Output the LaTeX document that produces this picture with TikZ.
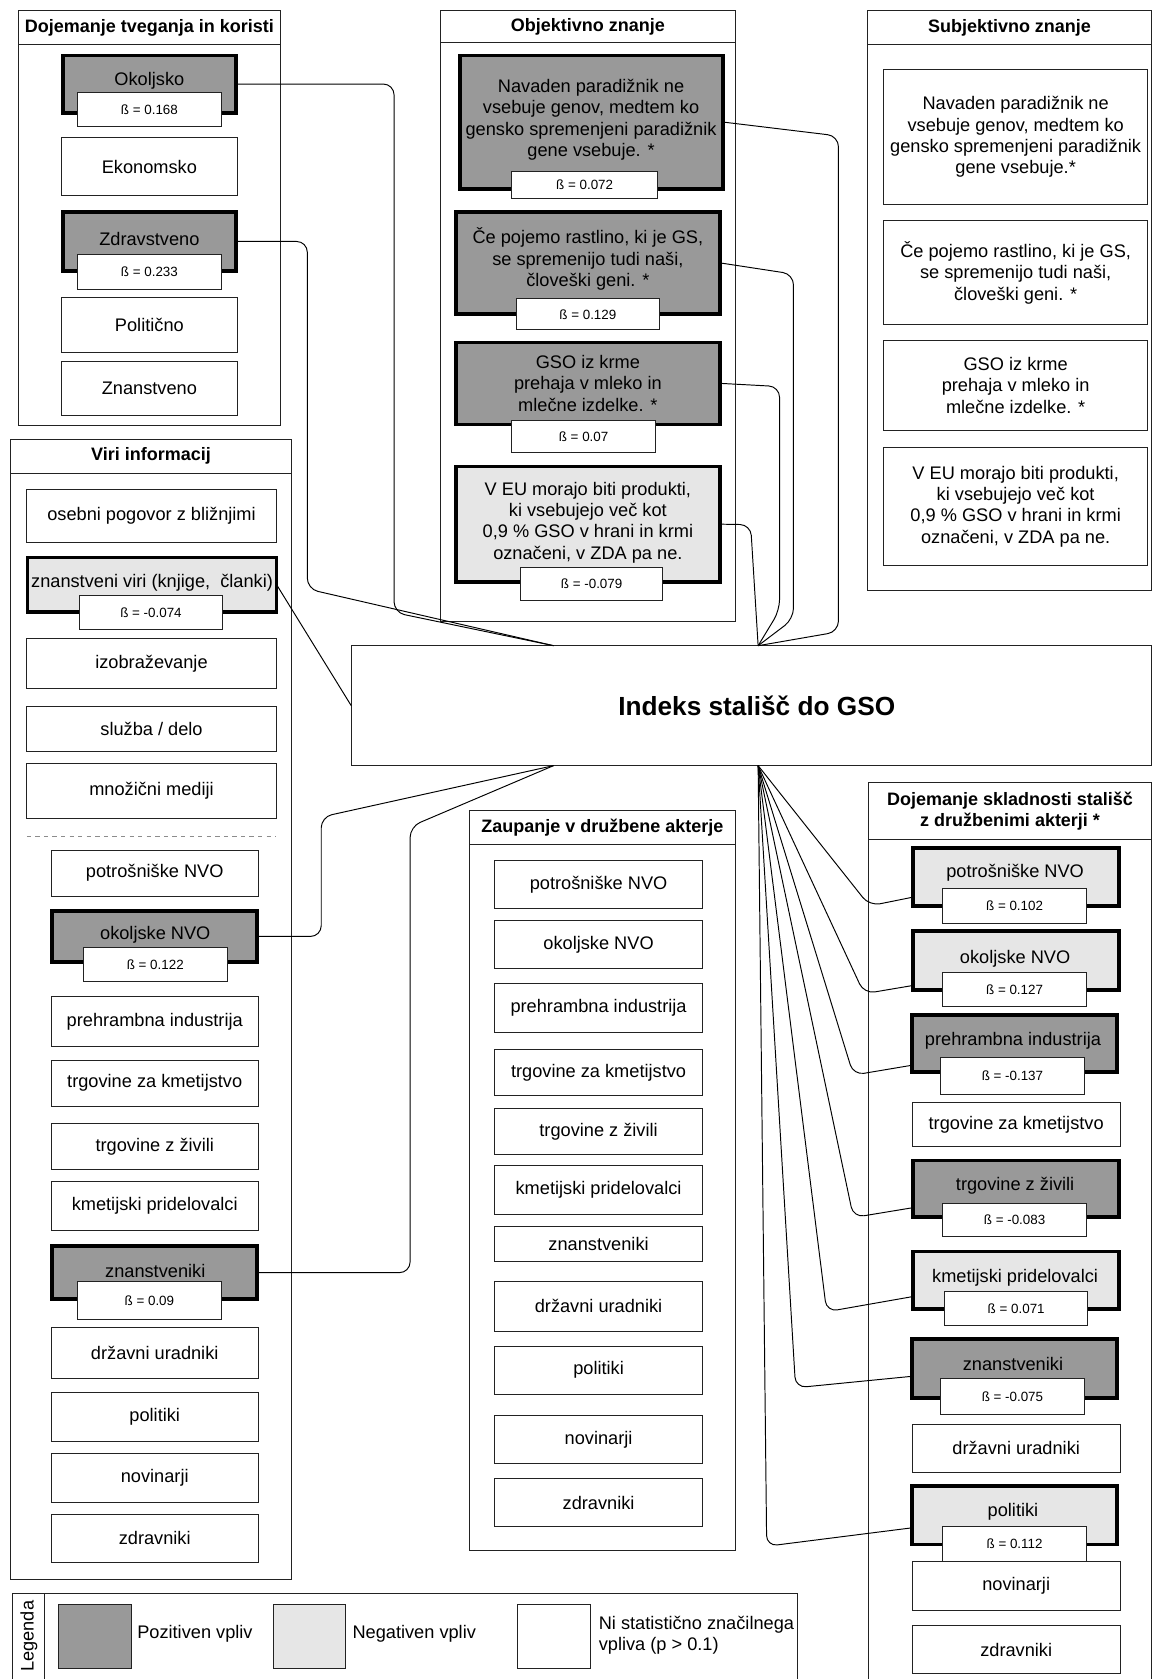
\documentclass[tikz,border=0pt]{standalone}
\usepackage{fontspec}
\setmainfont{Liberation Sans}
\usetikzlibrary{calc}
\definecolor{posfill}{HTML}{999999}
\definecolor{negfill}{HTML}{E6E6E6}
\definecolor{edge}{HTML}{222222}
\newcommand\txtfont{\fontsize{17}{20}\selectfont}
\newcommand\headfont{\fontsize{16.8}{20}\selectfont\bfseries}
\newcommand\betafont{\fontsize{12.5}{14}\selectfont}
\newcommand\indexfont{\fontsize{24.5}{28}\selectfont\bfseries}
% rectangle node spanning corner (#3,#4) to corner (#5,#6)
\newcommand\boxat[7]{%
  \pgfmathsetmacro\bxw{(#5)-(#3)}%
  \pgfmathsetmacro\bxh{(#6)-(#4)}%
  \node[#2, anchor=north west, minimum width=\bxw pt, minimum height=\bxh pt] (#1) at (#3,#4) {#7};}
% thick-bordered box given by its outer extent
\newcommand\tboxat[6]{\boxat{#1}{#2}{#3+1.7}{#4+1.7}{#5-1.7}{#6-1.7}{}}
\tikzset{
  panelbox/.style={draw=edge, line width=0.9pt, fill=white, inner sep=0pt, outer sep=0pt},
  headbox/.style={panelbox, font=\headfont, align=center},
  wbox/.style={draw=edge, line width=0.9pt, fill=white, inner sep=0pt, outer sep=0pt, font=\txtfont, align=center},
  posbox/.style={draw=black, line width=3.4pt, fill=posfill, inner sep=0pt, outer sep=0pt},
  negbox/.style={draw=black, line width=3.4pt, fill=negfill, inner sep=0pt, outer sep=0pt},
  betabox/.style={wbox, font=\betafont},
  boxtext/.style={font=\txtfont, align=center, inner sep=0pt},
  conn/.style={draw=black, line width=0.9pt, rounded corners=10pt},
  swatch/.style={draw=edge, line width=0.9pt, inner sep=0pt, outer sep=0pt},
}
\begin{document}
\begin{tikzpicture}[x=1pt,y=-1pt]
\useasboundingbox (0,0) rectangle (1076,1568);
\clip (0,0) rectangle (1076,1568);
\fill[white] (0,0) rectangle (1076,1568);

% ---------- Dojemanje tveganja in koristi ----------
\boxat{p1}{panelbox}{17}{10}{262}{397}{}
\boxat{p1h}{headbox}{17}{10}{262}{42}{Dojemanje tveganja in koristi}
\tboxat{okolj}{posbox}{57}{50}{222}{107}
\node[boxtext] (okolj-t) at (139.5,75) {Okoljsko};
\boxat{okolj-b}{betabox}{72}{86}{207}{118}{ß = 0.168}
\boxat{ekon}{wbox}{57}{128}{222}{183}{Ekonomsko}
\tboxat{zdrav}{posbox}{57}{196}{222}{255}
\node[boxtext] (zdrav-t) at (139.5,223) {Zdravstveno};
\boxat{zdrav-b}{betabox}{72}{238}{207}{270}{ß = 0.233}
\boxat{polit}{wbox}{57}{278}{222}{329}{Politično}
\boxat{znano}{wbox}{57}{338}{222}{388}{Znanstveno}

% ---------- Objektivno znanje ----------
\boxat{p2}{panelbox}{411}{10}{687}{580}{}
\boxat{p2h}{headbox}{411}{10}{687}{40}{Objektivno znanje}
\tboxat{ob1}{posbox}{428}{50}{677}{178}
\node[boxtext] (ob1-t) at (552,112) {Navaden paradižnik ne\\vsebuje genov, medtem ko\\gensko spremenjeni paradižnik\\gene vsebuje. *};
\boxat{ob1-b}{betabox}{478}{160}{614}{185}{ß = 0.072}
\tboxat{ob2}{posbox}{424}{196}{674}{295}
\node[boxtext] (ob2-t) at (549,242) {Če pojemo rastlino, ki je GS,\\se spremenijo tudi naši,\\človeški geni. *};
\boxat{ob2-b}{betabox}{482}{279}{616}{308}{ß = 0.129}
\tboxat{ob3}{posbox}{424}{318}{674}{398}
\node[boxtext] (ob3-t) at (549,358) {GSO iz krme\\prehaja v mleko in\\mlečne izdelke. *};
\boxat{ob3-b}{betabox}{478}{393}{612}{423}{ß = 0.07}
\tboxat{ob4}{negbox}{424}{434}{674}{545}
\node[boxtext] (ob4-t) at (549,488) {V EU morajo biti produkti,\\ki vsebujejo več kot\\0,9 \% GSO v hrani in krmi\\označeni, v ZDA pa ne.};
\boxat{ob4-b}{betabox}{486}{530}{619}{561}{ß = -0.079}

% ---------- Subjektivno znanje ----------
\boxat{p3}{panelbox}{810}{10}{1075.5}{551}{}
\boxat{p3h}{headbox}{810}{10}{1075.5}{42}{Subjektivno znanje}
\boxat{sb1}{wbox}{825}{65}{1072}{191}{Navaden paradižnik ne\\vsebuje genov, medtem ko\\gensko spremenjeni paradižnik\\gene vsebuje.*}
\boxat{sb2}{wbox}{825}{206}{1072}{303}{Če pojemo rastlino, ki je GS,\\se spremenijo tudi naši,\\človeški geni. *}
\boxat{sb3}{wbox}{825}{318}{1072}{402}{GSO iz krme\\prehaja v mleko in\\mlečne izdelke. *}
\boxat{sb4}{wbox}{825}{418}{1072}{528}{V EU morajo biti produkti,\\ki vsebujejo več kot\\0,9 \% GSO v hrani in krmi\\označeni, v ZDA pa ne.}

% ---------- Viri informacij ----------
\boxat{p4}{panelbox}{10}{410}{272}{1475}{}
\boxat{p4h}{headbox}{10}{410}{272}{442}{Viri informacij}
\boxat{v1}{wbox}{25}{457}{258}{507}{osebni pogovor z bližnjimi}
\tboxat{v2}{negbox}{24}{519}{260}{573}
\node[boxtext] (v2-t) at (142,544) {znanstveni viri (knjige,\ \ članki)};
\boxat{v2-b}{betabox}{74}{556}{208}{588}{ß = -0.074}
\boxat{v3}{wbox}{25}{596}{258}{643}{izobraževanje}
\boxat{v4}{wbox}{25}{660}{258}{702}{služba / delo}
\boxat{v5}{wbox}{25}{713}{258}{764}{množični mediji}
\coordinate (sepL) at (25,781);
\coordinate (sepR) at (258,781);
\draw[black!45, line width=0.8pt, dash pattern=on 4pt off 4pt] (sepL) -- (sepR);
\boxat{v6}{wbox}{48}{794}{241}{837}{potrošniške NVO}
\tboxat{v7}{posbox}{47}{849}{242}{900}
\node[boxtext] (v7-t) at (145,873) {okoljske NVO};
\boxat{v7-b}{betabox}{78}{885}{212}{917}{ß = 0.122}
\boxat{v8}{wbox}{48}{931}{241}{977}{prehrambna industrija}
\boxat{v9}{wbox}{48}{990}{241}{1033}{trgovine za kmetijstvo}
\boxat{v10}{wbox}{48}{1049}{241}{1092}{trgovine z živili}
\boxat{v11}{wbox}{48}{1103}{241}{1149}{kmetijski pridelovalci}
\tboxat{v12}{posbox}{47}{1162}{242}{1215}
\node[boxtext] (v12-t) at (145,1187) {znanstveniki};
\boxat{v12-b}{betabox}{72}{1197}{207}{1232}{ß = 0.09}
\boxat{v13}{wbox}{48}{1240}{241}{1287}{državni uradniki}
\boxat{v14}{wbox}{48}{1300}{241}{1346}{politiki}
\boxat{v15}{wbox}{48}{1357}{241}{1403}{novinarji}
\boxat{v16}{wbox}{48}{1414}{241}{1459}{zdravniki}

% ---------- central index ----------
\boxat{idx}{wbox}{328}{603}{1075.5}{715}{\indexfont\hspace*{10pt}Indeks stališč do GSO}

% ---------- Zaupanje v družbene akterje ----------
\boxat{p5}{panelbox}{438}{757}{687}{1448}{}
\boxat{p5h}{headbox}{438}{757}{687}{789}{Zaupanje v družbene akterje}
\boxat{z1}{wbox}{462}{804}{656}{848}{potrošniške NVO}
\boxat{z2}{wbox}{462}{860}{656}{904}{okoljske NVO}
\boxat{z3}{wbox}{462}{918}{656}{964}{prehrambna industrija}
\boxat{z4}{wbox}{462}{980}{656}{1023}{trgovine za kmetijstvo}
\boxat{z5}{wbox}{462}{1035}{656}{1078}{trgovine z živili}
\boxat{z6}{wbox}{462}{1088}{656}{1134}{kmetijski pridelovalci}
\boxat{z7}{wbox}{462}{1145}{656}{1178}{znanstveniki}
\boxat{z8}{wbox}{462}{1197}{656}{1243}{državni uradniki}
\boxat{z9}{wbox}{462}{1257}{656}{1302}{politiki}
\boxat{z10}{wbox}{462}{1322}{656}{1367}{novinarji}
\boxat{z11}{wbox}{462}{1381}{656}{1426}{zdravniki}

% ---------- Dojemanje skladnosti stališč ----------
\boxat{p6}{panelbox}{811}{731}{1075.5}{1590}{}
\boxat{p6h}{headbox}{811}{731}{1075.5}{784}{Dojemanje skladnosti stališč\\z družbenimi akterji *}
\tboxat{r1}{negbox}{851}{790}{1047}{848}
\node[boxtext] (r1-t) at (948,815) {potrošniške NVO};
\boxat{r1-b}{betabox}{880}{830}{1015}{862}{ß = 0.102}
\tboxat{r2}{negbox}{851}{868}{1047}{926}
\node[boxtext] (r2-t) at (948,895) {okoljske NVO};
\boxat{r2-b}{betabox}{880}{908}{1015}{940}{ß = 0.127}
\tboxat{r3}{posbox}{850}{946}{1045}{1003}
\node[boxtext] (r3-t) at (946,972) {prehrambna industrija};
\boxat{r3-b}{betabox}{878}{988}{1013}{1022}{ß = -0.137}
\boxat{r4}{wbox}{852}{1030}{1046}{1071}{trgovine za kmetijstvo}
\tboxat{r5}{posbox}{851}{1082}{1047}{1138}
\node[boxtext] (r5-t) at (948,1107) {trgovine z živili};
\boxat{r5-b}{betabox}{880}{1124}{1015}{1155}{ß = -0.083}
\tboxat{r6}{negbox}{851}{1167}{1047}{1224}
\node[boxtext] (r6-t) at (948,1193) {kmetijski pridelovalci};
\boxat{r6-b}{betabox}{882}{1206}{1016}{1238}{ß = 0.071}
\tboxat{r7}{posbox}{850}{1249}{1045}{1307}
\node[boxtext] (r7-t) at (946,1274) {znanstveniki};
\boxat{r7-b}{betabox}{878}{1287}{1013}{1321}{ß = -0.075}
\boxat{r8}{wbox}{852}{1330}{1046}{1375}{državni uradniki}
\tboxat{r9}{negbox}{850}{1386}{1045}{1444}
\node[boxtext] (r9-t) at (946,1412) {politiki};
\boxat{r9-b}{betabox}{880}{1426}{1015}{1458}{ß = 0.112}
\boxat{r10}{wbox}{852}{1458}{1046}{1504}{novinarji}
\boxat{r11}{wbox}{852}{1518}{1046}{1563}{zdravniki}

% ---------- legend ----------
\boxat{leg}{panelbox}{12}{1488}{745}{1590}{}
\boxat{legcell}{panelbox}{12}{1488}{42}{1590}{}
\node[boxtext, rotate=90] (leg-t) at (27,1528) {Legenda};
\boxat{sw1}{swatch, fill=posfill}{55}{1498}{123}{1558}{}
\node[boxtext, anchor=west] (sw1-t) at (128,1526) {Pozitiven vpliv};
\boxat{sw2}{swatch, fill=negfill}{255}{1498}{323}{1558}{}
\node[boxtext, anchor=west] (sw2-t) at (329,1526) {Negativen vpliv};
\boxat{sw3}{swatch, fill=white}{483}{1498}{551}{1558}{}
\node[boxtext, anchor=west, align=left] (sw3-t) at (559,1527) {Ni statistično značilnega\\vpliva (p > 0.1)};

% ---------- connectors ----------
\coordinate (jTL) at (517,603);
\coordinate (jTR) at (708,603);
\coordinate (jBL) at (517,715);
\coordinate (jBR) at (708,715);

\draw[conn] (okolj.east) -| (368,572) -- (jTL);
\draw[conn] (zdrav.east) -| (287,550) -- (jTL);
\draw[conn] (v2.east) -- (idx.west);
\draw[conn] (v7.east) -| (300,763) -- (jBL);
\draw[conn] (v12.east) -| (383,772) -- (jBL);

\draw[conn] (ob1.east) -- (783,127) -- (783,590) -- (jTR);
\draw[conn] (ob2.east) -- (741,256) -- (741,578) -- (jTR);
\draw[conn] (ob3.east) -- (728,361) -- (728,570) -- (jTR);
\draw[conn] (ob4.east) -- (701,490) -- (jTR);

\draw[conn] (jBR) -- (812,846) -- ($(r1.south west)+(0,-8.5)$);
\draw[conn] (jBR) -- (807,928) -- ($(r2.south west)+(0,-4)$);
\draw[conn] (jBR) -- (797,1004) -- ($(r3.south west)+(0,-6.5)$);
\draw[conn] (jBR) -- (797,1137) -- ($(r5.south west)+(0,-8.5)$);
\draw[conn] (jBR) -- (772,1225) -- ($(r6.south west)+(0,-11.5)$);
\draw[conn] (jBR) -- (743,1296) -- ($(r7.south west)+(0,-20)$);
\draw[conn] (jBR) -- (716,1444) -- ($(r9.south west)+(0,-15.5)$);
\end{tikzpicture}
\end{document}
